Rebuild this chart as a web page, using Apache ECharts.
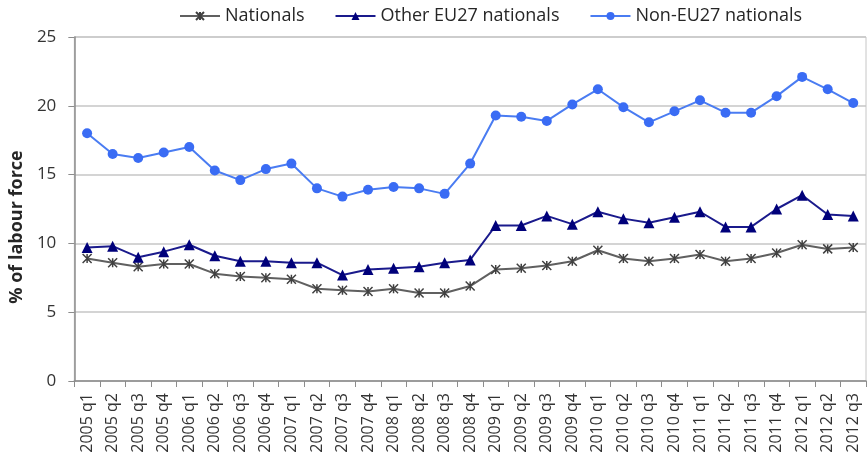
<!DOCTYPE html>
<html><head><meta charset="utf-8">
<script src="https://cdn.jsdelivr.net/npm/echarts@6/dist/echarts.min.js"></script>
<style>html,body{margin:0;padding:0;background:#fff}#c{width:868px;height:463px}</style>
</head><body><div id="c"></div>
<script>
const categories = ["2005 q1","2005 q2","2005 q3","2005 q4","2006 q1","2006 q2","2006 q3","2006 q4",
"2007 q1","2007 q2","2007 q3","2007 q4","2008 q1","2008 q2","2008 q3","2008 q4",
"2009 q1","2009 q2","2009 q3","2009 q4","2010 q1","2010 q2","2010 q3","2010 q4",
"2011 q1","2011 q2","2011 q3","2011 q4","2012 q1","2012 q2","2012 q3"];
const nationals = [8.9,8.6,8.3,8.5,8.5,7.8,7.6,7.5,7.4,6.7,6.6,6.5,6.7,6.4,6.4,6.9,
8.1,8.2,8.4,8.7,9.5,8.9,8.7,8.9,9.2,8.7,8.9,9.3,9.9,9.6,9.7];
const otherEU27 = [9.7,9.8,9.0,9.4,9.9,9.1,8.7,8.7,8.6,8.6,7.7,8.1,8.2,8.3,8.6,8.8,
11.3,11.3,12.0,11.4,12.3,11.8,11.5,11.9,12.3,11.2,11.2,12.5,13.5,12.1,12.0];
const nonEU27 = [18.0,16.5,16.2,16.6,17.0,15.3,14.6,15.4,15.8,14.0,13.4,13.9,14.1,14.0,13.6,15.8,
19.3,19.2,18.9,20.1,21.2,19.9,18.8,19.6,20.4,19.5,19.5,20.7,22.1,21.2,20.2];
const yTicks = [0,5,10,15,20,25];
const seriesNames = ["Nationals","Other EU27 nationals","Non-EU27 nationals"];

const FONT = "Open Sans";
const star = 'path://M0,0L10,10M10,0L0,10M5,0L5,10';
const chart = echarts.init(document.getElementById('c'), null, {renderer:'canvas'});
chart.setOption({
  animation:false,
  textStyle:{fontFamily:FONT},
  legend:{
    top:2, left:174, itemGap:30, itemWidth:40, itemHeight:10,
    textStyle:{fontFamily:FONT,fontSize:18,color:'#262626'},
    data:seriesNames
  },
  grid:{left:73,right:2,top:37,bottom:82,containLabel:false,show:true,borderColor:'#c6c6c6',borderWidth:1},
  xAxis:{
    type:'category', data:categories, boundaryGap:true,
    axisLine:{lineStyle:{color:'#8c8c8c',width:1.5}},
    axisTick:{show:true,interval:0,length:6,lineStyle:{color:'#8c8c8c'}},
    axisLabel:{interval:0,rotate:90,fontFamily:FONT,fontSize:16,color:'#333',margin:12}
  },
  yAxis:{
    type:'value', min:yTicks[0], max:yTicks[yTicks.length-1], interval:5,
    name:'% of labour force', nameLocation:'middle', nameGap:48,
    nameTextStyle:{fontFamily:FONT,fontSize:18,fontWeight:'bold',color:'#262626',padding:[0,36,0,0]},
    axisLine:{show:true,lineStyle:{color:'#8c8c8c',width:1.5}},
    axisTick:{show:true,length:6,lineStyle:{color:'#8c8c8c'}},
    axisLabel:{fontFamily:FONT,fontSize:17,color:'#333',margin:18},
    splitLine:{lineStyle:{color:'#c6c6c6',width:1.5}}
  },
  series:[
    {name:seriesNames[0], type:'line', data:nationals, symbol:star, symbolSize:9,
     lineStyle:{color:'#606060',width:2}, itemStyle:{color:'#595959',borderColor:'#404040',borderWidth:1.5}},
    {name:seriesNames[1], type:'line', data:otherEU27, symbol:'triangle', symbolSize:11,
     lineStyle:{color:'#1a1a8c',width:2}, itemStyle:{color:'#00007a'}},
    {name:seriesNames[2], type:'line', data:nonEU27, symbol:'circle', symbolSize:10,
     lineStyle:{color:'#4a7cf2',width:2}, itemStyle:{color:'#3a6cf4'}}
  ]
});
</script></body></html>
